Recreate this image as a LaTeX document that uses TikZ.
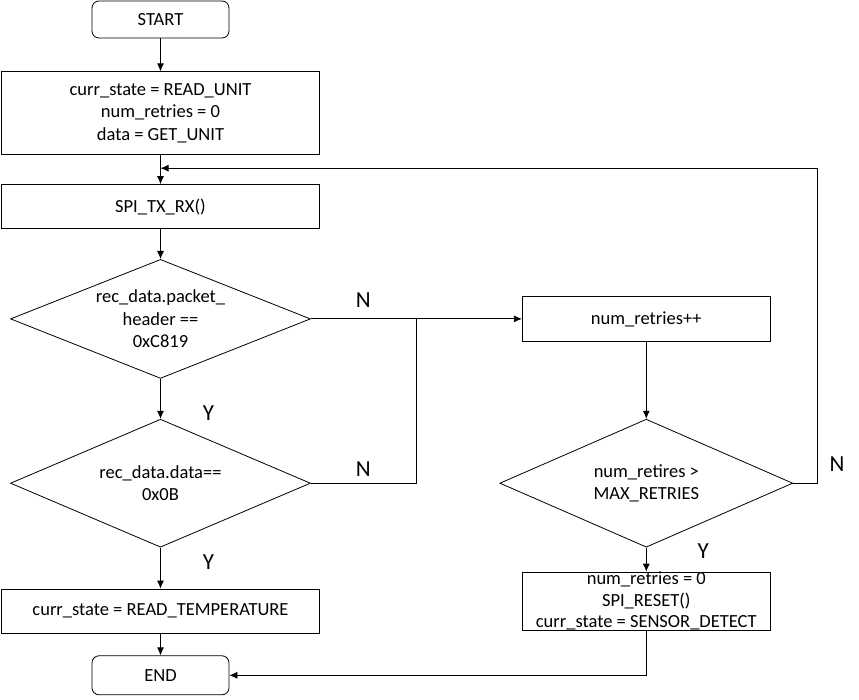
\documentclass[tikz,border=0pt]{standalone}
\usepackage{fontspec}
\setmainfont{Carlito}
\usetikzlibrary{shapes.geometric,arrows.meta,positioning}

\begin{document}
\begin{tikzpicture}[
    node distance=29pt,
    box/.style={rectangle, draw, line width=0.8pt, minimum width=318pt, minimum height=44pt, align=center, inner sep=1pt, font=\fontsize{18.5}{22.5}\selectfont},
    term/.style={box, rounded corners=7pt, minimum width=137pt, minimum height=37pt},
    decision/.style={diamond, draw, line width=0.8pt, aspect=2.5, inner sep=0pt, minimum width=300pt, minimum height=128pt, align=center, font=\fontsize{18.5}{22.5}\selectfont},
    lbl/.style={font=\fontsize{23}{27}\selectfont, inner sep=0pt},
    arrow/.style={-{Latex[length=8pt,width=7pt]}, line width=0.8pt}
]
\useasboundingbox (0,0) rectangle (859pt,-700pt);

% left column
\node[term] (start) at (160.5pt,-19.5pt) {START};
\node[box, below=33pt of start, minimum height=83pt] (init) {curr\_state = READ\_UNIT\\num\_retries = 0\\data = GET\_UNIT};
\node[box, below=of init] (spi) {SPI\_TX\_RX()};
\node[decision, below=30pt of spi, minimum height=119pt] (hdr) {rec\_data.packet\_\\header ==\\0xC819};
\node[decision, below=40pt of hdr] (chk) {rec\_data.data==\\0x0B};
\node[box, below=41pt of chk] (temp) {curr\_state = READ\_TEMPERATURE};
\node[term, below=22pt of temp, minimum height=39pt] (end) {END};

% right column
\node[box, right=211pt of hdr, minimum width=248pt, minimum height=45pt] (retry) {num\_retries++};
\node[decision, below=77pt of retry, minimum width=293pt] (maxr) {num\_retires >\\MAX\_RETRIES};
\node[box, below=24pt of maxr, minimum width=248pt, minimum height=58pt, inner sep=0pt,
      font=\fontsize{18.5}{21.5}\selectfont] (reset) {num\_retries = 0\\SPI\_RESET()\\curr\_state = SENSOR\_DETECT};

\coordinate[right=105pt of hdr.east] (join);
\coordinate[below=13pt of init] (back);

\draw[arrow] (start) -- (init);
\draw[arrow] (init) -- (spi);
\draw[arrow] (spi) -- (hdr);
\draw[arrow] (hdr) -- node[lbl, pos=0.85, xshift=48pt] {Y} (chk);
\draw[arrow] (chk) -- node[lbl, pos=0.36, xshift=48pt] {Y} (temp);
\draw[arrow] (temp) -- (end);
\draw[arrow] (hdr.east) -- node[lbl, above=11pt] {N} (join) -- (retry.west);
\draw[line width=0.8pt] (chk.east) -- node[lbl, above=6pt] {N} (chk.east -| join) -- (join);
\draw[arrow] (retry) -- (maxr);
\draw[arrow] (maxr) -- node[lbl, pos=0.16, xshift=57pt] {Y} (reset);
\draw[arrow] (maxr.east) -- ++(24pt,0) node[lbl, above right=11pt and 12pt] {N} |- (back);
\draw[arrow] (reset) |- (end);
\end{tikzpicture}
\end{document}
